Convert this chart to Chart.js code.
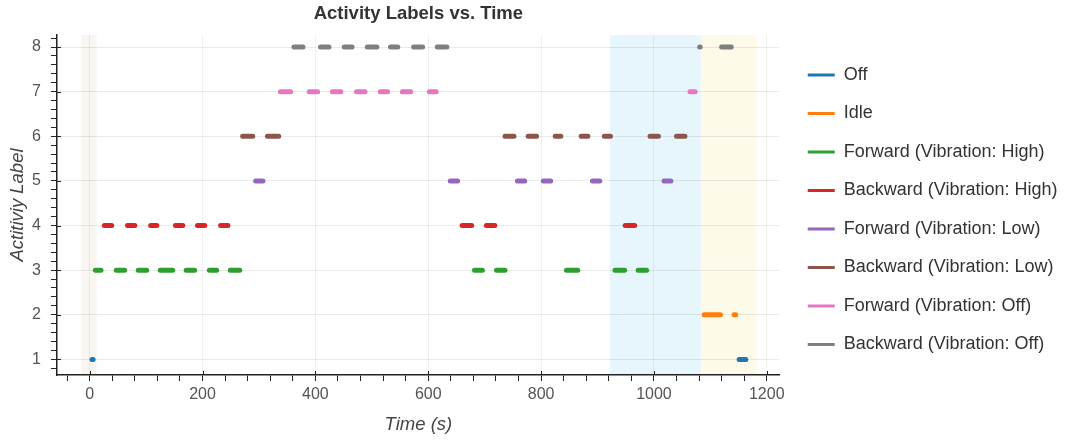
<!DOCTYPE html>
<html lang="en">
<head>
    <meta charset="UTF-8">
    <title>Activity Labels vs. Time</title>
    <script src="https://cdn.jsdelivr.net/npm/chart.js"></script>
    <style>
        html, body { margin: 0; padding: 0; background: #fff; }
        #wrap { width: 1075px; height: 442px; }
    </style>
</head>
<body>
    <div id="wrap"><canvas id="activityChart"></canvas></div>

    <script>
        // series names / y level for each activity
        const seriesNames = ['Off', 'Idle', 'Forward (Vibration: High)', 'Backward (Vibration: High)',
            'Forward (Vibration: Low)', 'Backward (Vibration: Low)', 'Forward (Vibration: Off)', 'Backward (Vibration: Off)'];
        const seriesLevels = [1, 2, 3, 4, 5, 6, 7, 8];
        const seriesColors = ['#1f77b4', '#ff7f0e', '#2ca02c', '#d62728', '#9467bd', '#8c564b', '#e377c2', '#7f7f7f'];

        // [start, end] in seconds
        const offSegments = [[4, 6], [1151, 1163]];
        const idleSegments = [[1089, 1118], [1142, 1145]];
        const fwdHighSegments = [[10, 20], [47, 62], [86, 101], [125, 147], [171, 186], [212, 225], [249, 266],
            [682, 696], [721, 736], [845, 865], [931, 948], [972, 987]];
        const bwdHighSegments = [[26, 39], [67, 80], [108, 119], [152, 165], [191, 204], [232, 245],
            [660, 677], [703, 718], [949, 966]];
        const fwdLowSegments = [[294, 307], [639, 652], [758, 771], [804, 817], [891, 904], [1018, 1030]];
        const bwdLowSegments = [[271, 289], [315, 335], [736, 752], [777, 792], [825, 835], [871, 883],
            [912, 923], [993, 1008], [1040, 1055]];
        const fwdOffSegments = [[338, 356], [389, 404], [430, 445], [473, 488], [515, 528], [554, 569],
            [602, 614], [1064, 1073]];
        const bwdOffSegments = [[362, 378], [409, 424], [451, 465], [492, 509], [533, 546], [574, 590],
            [616, 633], [1081, 1082], [1120, 1137]];

        const allSegments = [offSegments, idleSegments, fwdHighSegments, bwdHighSegments,
            fwdLowSegments, bwdLowSegments, fwdOffSegments, bwdOffSegments];

        // shaded time spans [start, end, colour]
        const shadeSpans = [[-15, 12, 'rgba(225,212,185,0.2)'], [922, 1083, 'rgba(185,230,245,0.35)'], [1083, 1182, 'rgba(248,240,195,0.35)']];

        const xMin = -58, xMax = 1223, yMin = 0.65, yMax = 8.27;

        Chart.defaults.font.family = "'Liberation Sans', Arial, sans-serif";

        // turn segments into a line with gaps between pieces
        function toPoints(segs, level) {
            const pts = [];
            segs.forEach(s => {
                pts.push({ x: s[0], y: level });
                pts.push({ x: s[1], y: level });
                pts.push({ x: s[1], y: null });
            });
            return pts;
        }

        const datasets = seriesNames.map((name, i) => ({
            label: name,
            data: toPoints(allSegments[i], seriesLevels[i]),
            borderColor: seriesColors[i],
            backgroundColor: seriesColors[i],
            borderWidth: 5,
            borderCapStyle: 'round',
            showLine: true,
            spanGaps: false,
            pointRadius: 0
        }));

        const shadePlugin = {
            id: 'shade',
            beforeDraw(chart) {
                const { ctx, chartArea, scales } = chart;
                ctx.save();
                shadeSpans.forEach(sp => {
                    const x1 = Math.max(scales.x.getPixelForValue(sp[0]), chartArea.left);
                    const x2 = scales.x.getPixelForValue(sp[1]);
                    ctx.fillStyle = sp[2];
                    ctx.fillRect(x1, chartArea.top, x2 - x1, chartArea.bottom - chartArea.top);
                });
                ctx.restore();
            },
            // major ticks also poke a little inside the axes
            afterDraw(chart) {
                const { ctx, chartArea, scales } = chart;
                ctx.save();
                ctx.strokeStyle = '#222';
                ctx.lineWidth = 1;
                ctx.beginPath();
                for (let v = 0; v <= 1200; v += 200) {
                    const px = Math.round(scales.x.getPixelForValue(v)) + 0.5;
                    ctx.moveTo(px, chartArea.bottom);
                    ctx.lineTo(px, chartArea.bottom - 4);
                }
                seriesLevels.forEach(v => {
                    const py = Math.round(scales.y.getPixelForValue(v)) + 0.5;
                    ctx.moveTo(chartArea.left, py);
                    ctx.lineTo(chartArea.left + 4, py);
                });
                ctx.stroke();
                ctx.restore();
            }
        };

        new Chart(document.getElementById('activityChart'), {
            type: 'scatter',
            data: { datasets: datasets },
            plugins: [shadePlugin],
            options: {
                responsive: true,
                maintainAspectRatio: false,
                animation: false,
                layout: { padding: { left: 0, right: 7.5, top: 0, bottom: 0 } },
                plugins: {
                    title: {
                        display: true,
                        text: 'Activity Labels vs. Time',
                        fullSize: false,
                        color: '#333',
                        font: { size: 18.5, weight: 'bold' },
                        padding: { top: 3, bottom: 9.8 }
                    },
                    legend: {
                        position: 'right',
                        fullSize: false,
                        maxWidth: 320,
                        title: { display: true, text: '', font: { size: 1 }, padding: { top: 4, bottom: 4.3 } },
                        labels: {
                            boxWidth: 27,
                            boxHeight: 3,
                            padding: 20.5,
                            color: '#333',
                            font: { size: 18 },
                            generateLabels: chart => chart.data.datasets.map((ds, i) => ({
                                text: ds.label,
                                fillStyle: ds.borderColor,
                                strokeStyle: ds.borderColor,
                                lineWidth: 0,
                                hidden: false,
                                datasetIndex: i,
                                fontColor: '#333'
                            }))
                        }
                    },
                    tooltip: { enabled: false }
                },
                scales: {
                    x: {
                        type: 'linear',
                        min: xMin,
                        max: xMax,
                        afterBuildTicks: axis => {
                            const t = [];
                            for (let v = -40; v <= 1200; v += 40) t.push({ value: v });
                            axis.ticks = t;
                        },
                        afterFit: axis => { axis.height = 67; },
                        ticks: {
                            autoSkip: false,
                            maxRotation: 0,
                            color: '#555',
                            font: { size: 16 },
                            padding: 4,
                            callback: v => (v % 200 === 0 ? String(v) : '')
                        },
                        grid: {
                            color: ctx => (ctx.tick && ctx.tick.value % 200 === 0 ? 'rgba(0,0,0,0.06)' : 'rgba(0,0,0,0)'),
                            tickColor: '#222',
                            tickLength: 6
                        },
                        border: { color: '#222', width: 1.5 },
                        title: {
                            display: true,
                            text: 'Time (s)',
                            color: '#444',
                            font: { size: 18.5, style: 'italic' },
                            padding: { top: 4, bottom: 6 }
                        }
                    },
                    y: {
                        type: 'linear',
                        min: yMin,
                        max: yMax,
                        afterBuildTicks: axis => {
                            const t = [];
                            for (let k = 4; k <= 41; k++) t.push({ value: k / 5 });
                            axis.ticks = t;
                        },
                        afterFit: axis => { axis.width = 57; },
                        ticks: {
                            autoSkip: false,
                            color: '#555',
                            font: { size: 16 },
                            padding: 10,
                            callback: v => (Math.abs(v - Math.round(v)) < 1e-6 ? String(Math.round(v)) : '')
                        },
                        grid: {
                            color: ctx => (ctx.tick && Math.abs(ctx.tick.value - Math.round(ctx.tick.value)) < 1e-6 ? 'rgba(0,0,0,0.08)' : 'rgba(0,0,0,0)'),
                            tickColor: '#222',
                            tickLength: 6
                        },
                        border: { color: '#222', width: 1.5 },
                        title: {
                            display: true,
                            text: 'Actitiviy Label',
                            color: '#444',
                            font: { size: 18.5, style: 'italic' },
                            padding: { top: 7, bottom: 4 }
                        }
                    },
                    // empty spacer between plot and legend
                    ySpacer: {
                        type: 'linear',
                        position: 'right',
                        display: true,
                        grid: { display: false, drawTicks: false },
                        ticks: { display: false },
                        border: { display: false },
                        afterFit: axis => { axis.width = 7.5; }
                    }
                }
            }
        });
    </script>
</body>
</html>
